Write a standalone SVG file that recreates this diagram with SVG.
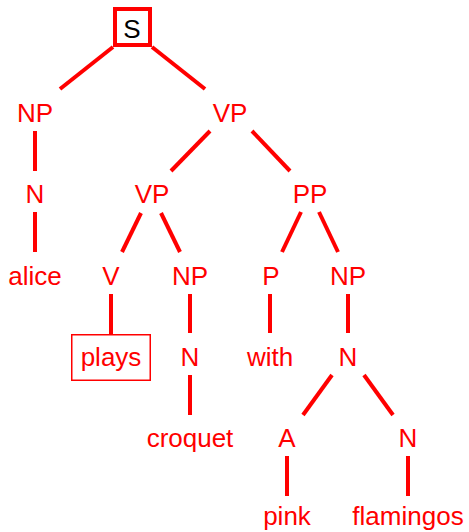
<svg xmlns="http://www.w3.org/2000/svg" width="469" height="532" viewBox="0 0 469 532">
<style>
text{font-family:"Liberation Sans",Arial,sans-serif;font-size:26px;fill:#ff0000;text-anchor:middle}
#edges line{stroke:#ff0000;stroke-width:4;stroke-linecap:butt}
</style>
<rect width="469" height="532" fill="#ffffff"/>
<g id="edges">
<line x1="113" y1="47" x2="60" y2="89"/>
<line x1="152" y1="47" x2="205" y2="89"/>
<line x1="35" y1="131" x2="35" y2="171"/>
<line x1="210" y1="131" x2="171" y2="171"/>
<line x1="252" y1="131" x2="290" y2="171"/>
<line x1="35" y1="212" x2="35" y2="252"/>
<line x1="141" y1="213" x2="122" y2="252"/>
<line x1="161" y1="213" x2="180" y2="252"/>
<line x1="301" y1="212" x2="282" y2="252"/>
<line x1="319" y1="212" x2="338" y2="252"/>
<line x1="111" y1="294" x2="111" y2="334"/>
<line x1="190" y1="294" x2="190" y2="333"/>
<line x1="270" y1="294" x2="270" y2="333"/>
<line x1="348" y1="294" x2="348" y2="333"/>
<line x1="190" y1="375" x2="190" y2="415"/>
<line x1="332" y1="375" x2="303" y2="415"/>
<line x1="364" y1="375" x2="393" y2="415"/>
<line x1="287" y1="456" x2="287" y2="496"/>
<line x1="408" y1="456" x2="408" y2="496"/>
</g>
<g id="S"><rect x="115" y="9" width="35" height="36" fill="none" stroke="#ff0000" stroke-width="4"/><text x="132" y="38" style="fill:#000000">S</text></g>
<g id="NP1"><text x="35" y="122">NP</text></g>
<g id="VP1"><text x="230" y="122">VP</text></g>
<g id="N1"><text x="35" y="203">N</text></g>
<g id="VP2"><text x="152" y="203">VP</text></g>
<g id="PP"><text x="310" y="203">PP</text></g>
<g id="alice"><text x="35" y="285">alice</text></g>
<g id="V"><text x="111" y="285">V</text></g>
<g id="NP2"><text x="190" y="285">NP</text></g>
<g id="P"><text x="271" y="285">P</text></g>
<g id="NP3"><text x="348" y="285">NP</text></g>
<g id="plays"><rect x="71.75" y="334.75" width="78.5" height="45.5" fill="none" stroke="#ff0000" stroke-width="1.5"/><text x="111" y="366">plays</text></g>
<g id="N2"><text x="190" y="366">N</text></g>
<g id="with"><text x="270" y="366">with</text></g>
<g id="N3"><text x="348" y="366">N</text></g>
<g id="croquet"><text x="190" y="447">croquet</text></g>
<g id="A"><text x="287" y="447">A</text></g>
<g id="N4"><text x="408" y="447">N</text></g>
<g id="pink"><text x="287" y="525">pink</text></g>
<g id="flamingos"><text x="408" y="525">flamingos</text></g>
</svg>
